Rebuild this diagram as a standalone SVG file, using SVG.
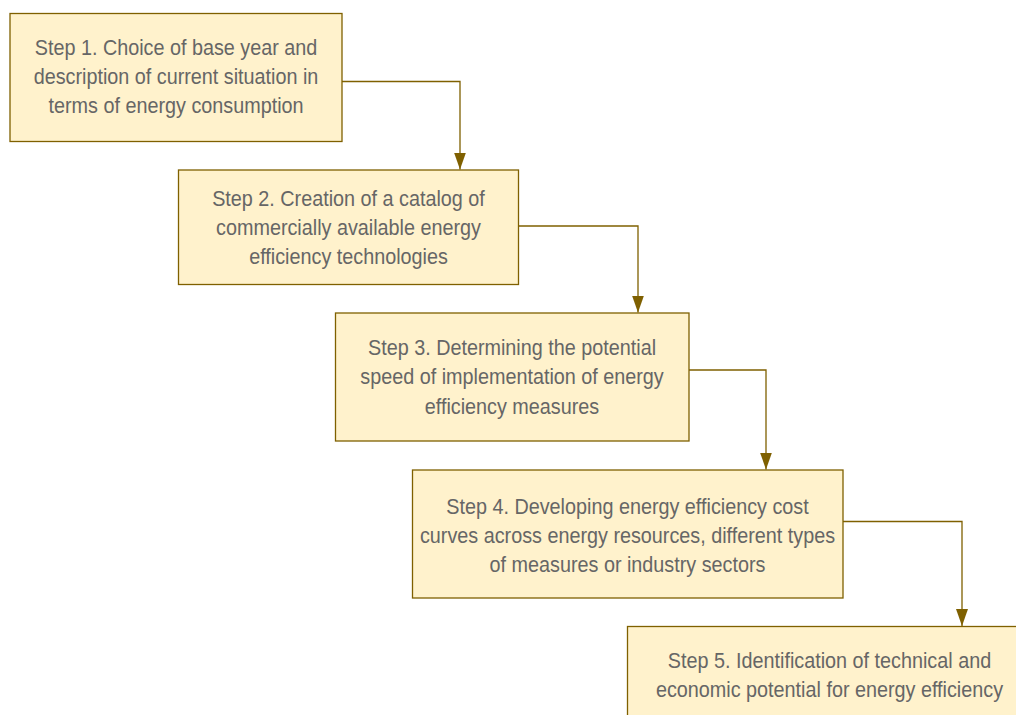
<svg xmlns="http://www.w3.org/2000/svg" width="1016" height="715" viewBox="0 0 1016 715">
<style>
.box{fill:#FFF2CC;stroke:#7F6000;stroke-width:1.3}
.t{font-family:"Liberation Sans",Arial,sans-serif;font-size:22px;fill:#666666;text-anchor:middle}
.c{fill:none;stroke:#7F6000;stroke-width:1.3}
</style>
<defs>
<marker id="a" viewBox="0 0 17 12" refX="17" refY="6" markerWidth="17" markerHeight="12" markerUnits="userSpaceOnUse" orient="auto">
<path d="M0,0 L17,6 L0,12 Z" fill="#7F6000"/>
</marker>
</defs>
<rect width="1016" height="715" fill="#ffffff"/>
<g id="connectors">
<path class="c" d="M342,81.5 H460 V169.5" marker-end="url(#a)"/>
<path class="c" d="M519,226 H638 V312.5" marker-end="url(#a)"/>
<path class="c" d="M689,370 H766 V469.5" marker-end="url(#a)"/>
<path class="c" d="M843,521.5 H962 V626" marker-end="url(#a)"/>
</g>
<g id="step1">
<rect class="box" x="10" y="13.5" width="332" height="128"/>
<g transform="translate(176,0) scale(0.9,1)">
<text class="t" x="0" y="55">Step 1. Choice of base year and</text>
<text class="t" x="0" y="84">description of current situation in</text>
<text class="t" x="0" y="113">terms of energy consumption</text>
</g>
</g>
<g id="step2">
<rect class="box" x="178.5" y="170" width="340" height="114.5"/>
<g transform="translate(348.5,0) scale(0.9,1)">
<text class="t" x="0" y="206">Step 2. Creation of a catalog of</text>
<text class="t" x="0" y="235">commercially available energy</text>
<text class="t" x="0" y="264">efficiency technologies</text>
</g>
</g>
<g id="step3">
<rect class="box" x="335.5" y="313" width="353.5" height="128"/>
<g transform="translate(512,0) scale(0.9,1)">
<text class="t" x="0" y="355">Step 3. Determining the potential</text>
<text class="t" x="0" y="384.5">speed of implementation of energy</text>
<text class="t" x="0" y="414">efficiency measures</text>
</g>
</g>
<g id="step4">
<rect class="box" x="412.5" y="470" width="430.5" height="128"/>
<g transform="translate(627.5,0) scale(0.9,1)">
<text class="t" x="0" y="514">Step 4. Developing energy efficiency cost</text>
<text class="t" x="0" y="543">curves across energy resources, different types</text>
<text class="t" x="0" y="572">of measures or industry sectors</text>
</g>
</g>
<g id="step5">
<rect class="box" x="627.5" y="626.5" width="405" height="110"/>
<g transform="translate(829.5,0) scale(0.9,1)">
<text class="t" x="0" y="668">Step 5. Identification of technical and</text>
<text class="t" x="0" y="697">economic potential for energy efficiency</text>
</g>
</g>
</svg>
